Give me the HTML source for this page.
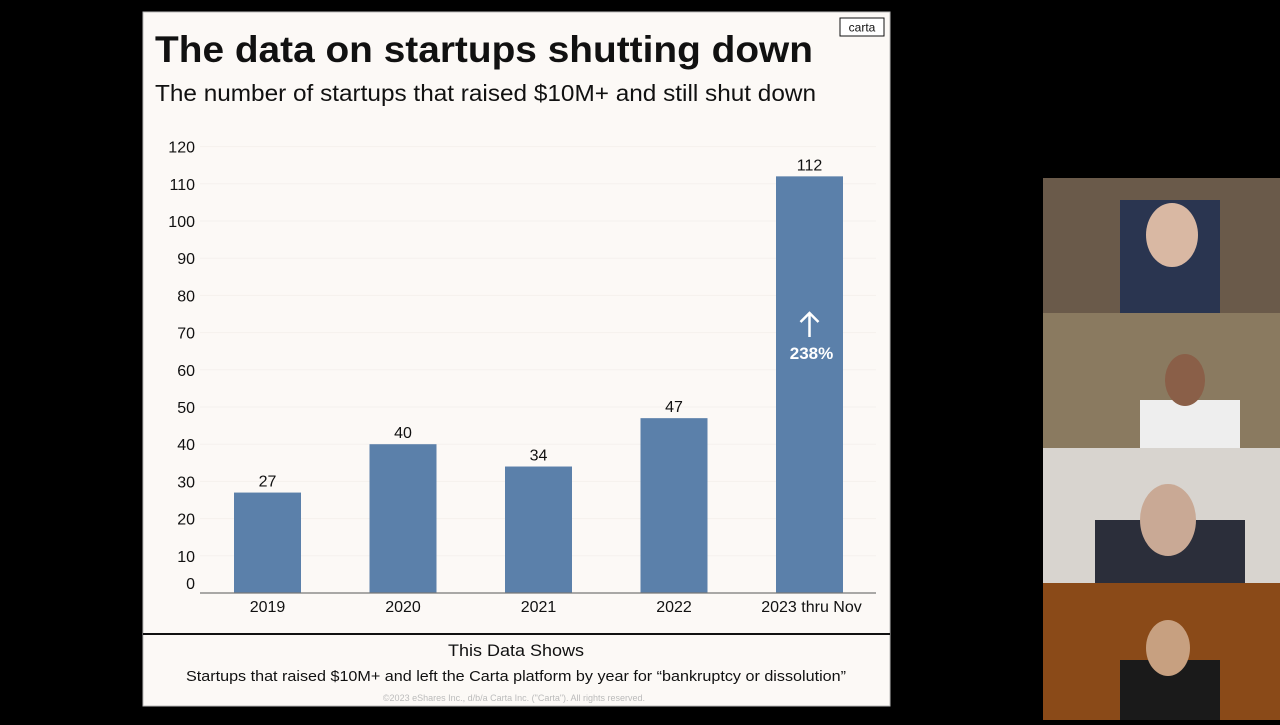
<!DOCTYPE html>
<html><head><meta charset="utf-8"><style>
body{margin:0;width:1280px;height:720px;background:#000;overflow:hidden;font-family:"Liberation Sans",sans-serif}
</style></head><body>
<svg width="1280" height="720">
<rect x="143" y="12" width="747" height="694" fill="#fcf9f6"/>
<rect x="143" y="12" width="747" height="694" fill="none" stroke="#bbb" stroke-width="1"/>
<text x="155" y="62" font-size="37" font-weight="bold" fill="#111" textLength="658" lengthAdjust="spacingAndGlyphs">The data on startups shutting down</text>
<text x="155" y="101" font-size="23" fill="#111" textLength="661" lengthAdjust="spacingAndGlyphs">The number of startups that raised $10M+ and still shut down</text>
<rect x="840" y="18" width="44" height="18" fill="#fff" stroke="#111" stroke-width="1"/>
<text x="862" y="31.5" font-size="12" text-anchor="middle" fill="#111">carta</text>
<g id="chart"></g>
<line x1="143" y1="634" x2="890" y2="634" stroke="#111" stroke-width="2"/>
<text x="516" y="656" font-size="17" text-anchor="middle" fill="#111" textLength="136" lengthAdjust="spacingAndGlyphs">This Data Shows</text>
<text x="516" y="681" font-size="15" text-anchor="middle" fill="#111" textLength="660" lengthAdjust="spacingAndGlyphs">Startups that raised $10M+ and left the Carta platform by year for “bankruptcy or dissolution”</text>
<text x="514" y="701" font-size="9" text-anchor="middle" fill="#bbb">©2023 eShares Inc., d/b/a Carta Inc. ("Carta"). All rights reserved.</text>
<g>
<rect x="1043" y="178" width="237" height="135" fill="#6a5a4a"/>
<rect x="1120" y="200" width="100" height="113" fill="#2a3550"/>
<ellipse cx="1172" cy="235" rx="26" ry="32" fill="#d9b8a3"/>
<rect x="1043" y="313" width="237" height="135" fill="#8a7a60"/>
<rect x="1140" y="400" width="100" height="48" fill="#eee"/>
<ellipse cx="1185" cy="380" rx="20" ry="26" fill="#8a5f48"/>
<rect x="1043" y="448" width="237" height="135" fill="#d8d4cf"/>
<rect x="1095" y="520" width="150" height="63" fill="#2b2e3a"/>
<ellipse cx="1168" cy="520" rx="28" ry="36" fill="#c9a995"/>
<rect x="1043" y="583" width="237" height="137" fill="#8a4a18"/>
<rect x="1120" y="660" width="100" height="60" fill="#1a1a1a"/>
<ellipse cx="1168" cy="648" rx="22" ry="28" fill="#c7a080"/>
</g>
</svg>
<script>
const categories=["2019","2020","2021","2022","2023 thru Nov"];
const values=[27,40,34,47,112];
const yTicks=[0,10,20,30,40,50,60,70,80,90,100,110,120];
const growthLabel="238%";
const NS="http://www.w3.org/2000/svg";
const g=document.getElementById('chart');
const base=593,scale=3.72,x0=267.5,step=135.5,bw=67;
const y=v=>base-v*scale, x=i=>x0+i*step;
function mk(t,a,txt){const e=document.createElementNS(NS,t);for(const k in a)e.setAttribute(k,a[k]);if(txt!==undefined)e.textContent=txt;g.appendChild(e);return e;}
yTicks.forEach(v=>{
 if(v>0){const l=mk('line',{x1:200,x2:876,y1:y(v),y2:y(v),stroke:'#f5f1ed','stroke-width':1});
 
 }
 const t=mk('text',{x:195,y:(v===0?y(v)-10:y(v))+6,'font-size':16,'text-anchor':'end',fill:'#111'},v);
 
 
});
values.forEach((v,i)=>{
 const r=mk('rect',{x:x(i)-bw/2,y:y(v),width:bw,height:v*scale,fill:'#5b80aa'});
 
 
 const t=mk('text',{x:x(i),y:y(v)-6,'font-size':16,'text-anchor':'middle',fill:'#111'},v);
 
 
 const c=mk('text',{x:x(i)+(i===4?2:0),y:612,'font-size':16,'text-anchor':'middle',fill:'#111'},categories[i]);
 
 
});
const ax=mk('line',{x1:200,x2:876,y1:base,y2:base,stroke:'#777','stroke-width':1.2});


const li=values.length-1, cx=x(li);
const ar=mk('path',{d:`M${cx} 337 V313 M${cx-9} 322 L${cx} 313 L${cx+9} 322`,stroke:'#fff','stroke-width':2.5,fill:'none'});


const gl=mk('text',{x:cx+2,y:359,'font-size':17,'font-weight':'bold','text-anchor':'middle',fill:'#fff'},growthLabel);


</script>
</body></html>
